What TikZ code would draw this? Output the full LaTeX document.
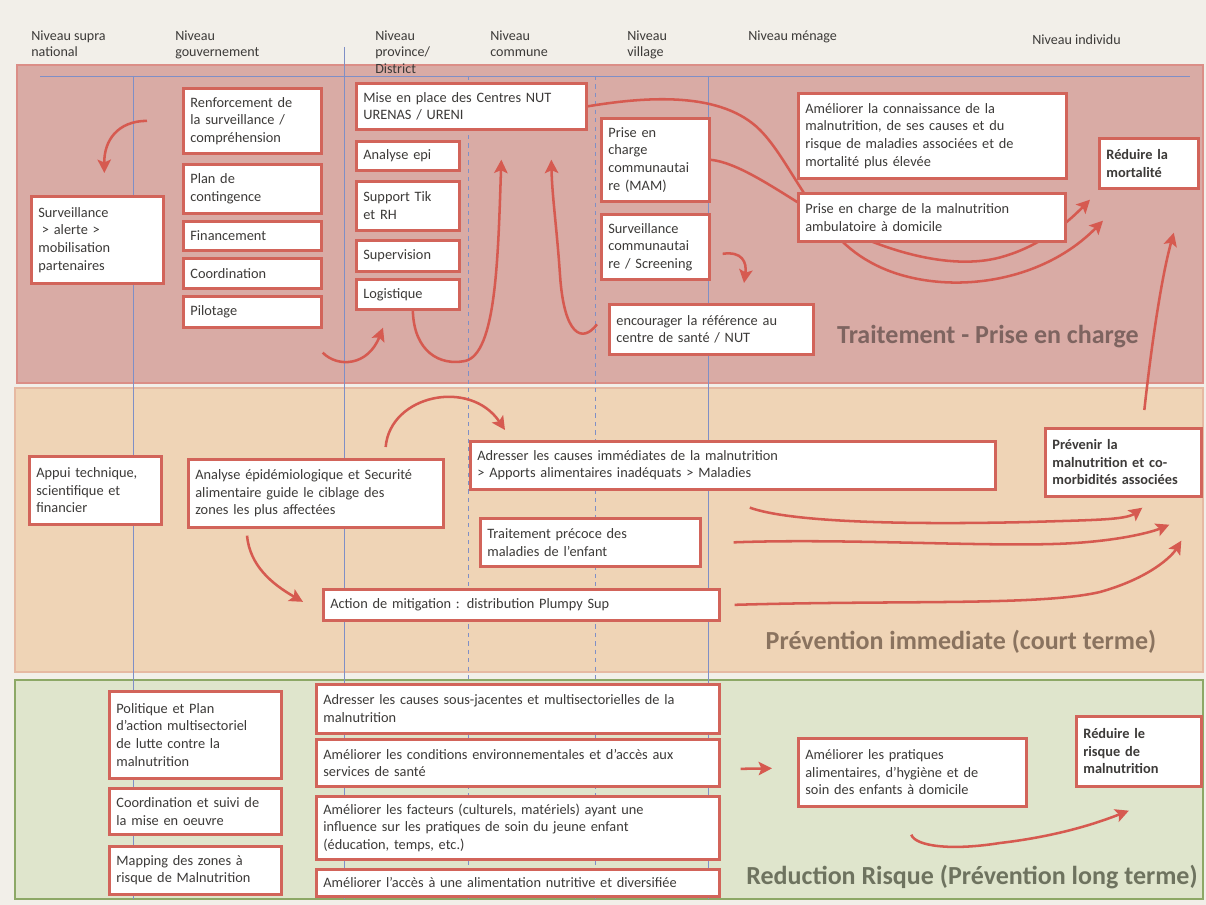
\documentclass[tikz,border=0pt]{standalone}
\usepackage{fontspec}
\setmainfont{Carlito}
\usepackage{xcolor}
\usetikzlibrary{calc,arrows.meta,positioning}
\definecolor{pagebg}{HTML}{F2EFE9}
\definecolor{bandone}{HTML}{D9ABA5}
\definecolor{bandonec}{HTML}{DB8E87}
\definecolor{bandtwo}{HTML}{EFD4B6}
\definecolor{bandtwoc}{HTML}{E6B9A2}
\definecolor{bandthree}{HTML}{DFE5CC}
\definecolor{bandthreec}{HTML}{8DA866}
\definecolor{boxc}{HTML}{D2645A}
\definecolor{arrc}{HTML}{D65A50}
\definecolor{gridc}{HTML}{7F8FC6}
\definecolor{txtc}{HTML}{3C3A38}
\definecolor{lblone}{HTML}{7E6460}
\definecolor{lbltwo}{HTML}{8A735F}
\definecolor{lblthree}{HTML}{6E735F}
\newlength{\pxu}\setlength{\pxu}{0.025cm}
\newcommand{\boxfont}{\fontsize{10.2}{12.5}\selectfont}
\newcommand{\headfont}{\fontsize{10}{11.4}\selectfont}
\newcommand{\bandfont}{\fontsize{18.5}{22}\selectfont\bfseries}
\pgfdeclarelayer{bands}
\pgfdeclarelayer{links}
\pgfsetlayers{bands,links,main}
\tikzset{
  box/.style n args={2}{draw=boxc,line width=1.9pt,fill=white,anchor=north west,align=left,inner xsep=5pt,inner ysep=1pt,text width=#1*\pxu-10pt,minimum height=#2*\pxu,font=\boxfont,text=txtc},
  boxb/.style={font=\boxfont\bfseries},
  ar/.style={-{Stealth[length=9.5pt,width=9.5pt,inset=2pt]},line width=1.8pt,arrc},
  hd/.style={anchor=north west,align=left,inner sep=0pt,font=\headfont,text=txtc},
  gline/.style={gridc,line width=0.6pt},
  lbl/.style={font=\bandfont}
}

\begin{document}
\begin{tikzpicture}[x=0.025cm,y=-0.025cm]
\useasboundingbox (0,0) rectangle (1206,905);
\begin{pgfonlayer}{bands}
\fill[pagebg] (0,0) rectangle (1206,905);
\filldraw[fill=bandone,draw=bandonec,line width=2pt] (17,65) rectangle (1203,383);
\filldraw[fill=bandtwo,draw=bandtwoc,line width=1pt] (15,388) rectangle (1203,672);
\filldraw[fill=bandthree,draw=bandthreec,line width=1.5pt] (15,680) rectangle (1203,899);
% niveaux
\draw[gline] (40,76) -- (1190,76);
\draw[gline] (133,76) -- (133,899);
\draw[gline] (344,47) -- (344,899);
\draw[gline] (708,76) -- (708,899);
\draw[gline,dashed] (468,76) -- (468,899);
\draw[gline,dashed] (595,76) -- (595,899);
\end{pgfonlayer}

% en-tetes
\node[hd] (nsupra) at (31,31) {Niveau supra\\national};
\node[hd] (ngouv) at (175,31) {Niveau\\gouvernement};
\node[hd] (nprov) at (375,31) {Niveau\\province/\\District};
\node[hd] (ncomm) at (490,31) {Niveau\\commune};
\node[hd] (nvill) at (627,31) {Niveau\\village};
\node[hd] (nmen) at (748,31) {Niveau ménage};
\node[hd] (nindiv) at (1032,34) {Niveau individu};

% traitement
\node[box={132}{87}] (surv) at (30,195) {Surveillance\\\hspace*{0.25em}> alerte >\\mobilisation\\partenaires};
\node[box={138}{65}] (renf) at (182,87) {Renforcement de\\la surveillance /\\compréhension};
\node[box={138}{49}] (plan) at (182,163) {Plan de\\contingence};
\node[box={138}{29}] (fin) at (182,220) {Financement};
\node[box={138}{30}] (coord) at (182,257) {Coordination};
\node[box={138}{31}] (pilot) at (182,295) {Pilotage};
\node[box={230}{46}] (mise) at (355,82) {Mise en place des Centres NUT\\URENAS / URENI};
\node[box={103}{29}] (epi) at (355,140) {Analyse epi};
\node[box={103}{49}] (tik) at (355,180) {Support Tik\\et RH};
\node[box={103}{31}] (superv) at (355,239) {Supervision};
\node[box={103}{30}] (logi) at (355,278) {Logistique};
\node[box={108}{83}] (pcc) at (600,117) {Prise en\\charge\\communautai\\re (MAM)};
\node[box={108}{65}] (scomm) at (600,213) {Surveillance\\communautai\\re / Screening};
\node[box={204}{50}] (encour) at (608,303) {encourager la référence au\\centre de santé / NUT};
\node[box={268}{85}] (amel) at (797,92) {Améliorer la connaissance de la\\malnutrition, de ses causes et du\\risque de maladies associées et de\\mortalité plus élevée};
\node[box={267}{48}] (amb) at (797,192) {Prise en charge de la malnutrition\\ambulatoire à domicile};
\node[box={99}{50},boxb] (redm) at (1098,137) {Réduire la\\mortalité};
\node[lbl,text=lblone] (ltrait) at (988,337) {Traitement - Prise en charge};

% prevention immediate
\node[box={132}{68}] (appui) at (28,455) {Appui technique,\\scientifique et\\financier};
\node[box={255}{68}] (anal) at (187,458) {Analyse épidémiologique et Securité\\alimentaire guide le ciblage des\\zones les plus affectées};
\node[box={525}{48}] (adr) at (469,440) {Adresser les causes immédiates de la malnutrition\\> Apports alimentaires inadéquats > Maladies};
\node[box={220}{48}] (trait) at (479,517) {Traitement précoce des\\maladies de l'enfant};
\node[box={396}{31}] (mitig) at (322,588) {Action de mitigation : distribution Plumpy Sup};
\node[box={156}{68},boxb] (prev) at (1044,427) {Prévenir la\\malnutrition et co-\\morbidités associées};
\node[lbl,text=lbltwo] (lprev) at (961,642) {Prévention immediate (court terme)};

% reduction risque
\node[box={172}{87}] (polit) at (108,690) {Politique et Plan\\d'action multisectoriel\\de lutte contre la\\malnutrition};
\node[box={172}{46}] (csuivi) at (108,787) {Coordination et suivi de\\la mise en oeuvre};
\node[box={172}{48}] (mapping) at (108,845) {Mapping des zones à\\risque de Malnutrition};
\node[box={403}{49}] (adrsj) at (315,683) {Adresser les causes sous-jacentes et multisectorielles de la\\malnutrition};
\node[box={403}{47}] (condit) at (315,738) {Améliorer les conditions environnementales et d'accès aux\\services de santé};
\node[box={403}{63}] (facteurs) at (315,795) {Améliorer les facteurs (culturels, matériels) ayant une\\influence sur les pratiques de soin du jeune enfant\\(éducation, temps, etc.)};
\node[box={403}{27}] (acces) at (315,868) {Améliorer l'accès à une alimentation nutritive et diversifiée};
\node[box={228}{68}] (prat) at (797,737) {Améliorer les pratiques\\alimentaires, d'hygiène et de\\soin des enfants à domicile};
\node[box={125}{70},boxb] (redr) at (1075,715) {Réduire le\\risque de\\malnutrition};
\node[lbl,text=lblthree] (lredu) at (972,877) {Reduction Risque (Prévention long terme)};

\begin{pgfonlayer}{links}
\draw[ar] ($(renf.west)+(-35,0)$) .. controls (118,121) and (104,140) .. ($(surv.north)+(7,-22)$);
\draw[ar] ($(pilot.south east)+(0,24)$) .. controls (338,368) and (368,366) .. ($(logi.south west)+(28,17)$);
\draw[ar] ($(logi.south)+(5,0)$) .. controls (414,352) and (440,366) .. (465,361) .. controls (496,354) and (498,260) .. ($(mise.south)+(30,29)$);
\draw[ar] ($(encour.west)+(-11,-5)$) .. controls (582,344) and (564,335) .. (560,275) .. controls (557,230) and (552,195) .. ($(mise.south)+(80,29)$);
\coordinate (scommtip) at (744,283);
\draw[ar] ($(scomm.east)+(12,7)$) .. controls (742,251) and (747,262) .. (scommtip);
\draw[ar] (mise.east) .. controls (650,96) and (722,92) .. (760,130) .. controls (792,162) and (815,232) .. (870,262) .. controls (930,296) and (1035,290) .. ($(redm.south west)+(5,31)$);
\draw[ar] (pcc.east) .. controls (742,163) and (785,196) .. (830,222) .. controls (885,252) and (955,272) .. (1005,256) .. controls (1045,244) and (1072,218) .. ($(redm.south west)+(-8,10)$);
\draw[ar] ($(prev.north)+(21,-17)$) .. controls (1152,340) and (1162,275) .. ($(redm.south)+(25,43)$);
\draw[ar] ($(anal.north east)+(-59,-11)$) .. controls (390,395) and (470,378) .. ($(adr.north west)+(36,-10)$);
\draw[ar] ($(anal.south west)+(60,7)$) .. controls (250,566) and (272,584) .. ($(mitig.west)+(-19,-3)$);
\draw[ar] ($(adr.south)+(17,17)$) .. controls (790,522) and (900,525) .. (1030,522) .. controls (1092,520) and (1126,520) .. ($(prev.south)+(19,10)$);
\draw[ar] ($(trait.east)+(32,0)$) .. controls (850,538) and (1000,548) .. (1075,543) .. controls (1122,540) and (1152,532) .. ($(prev.south)+(46,27)$);
\draw[ar] ($(mitig.east)+(14,0)$) .. controls (900,600) and (1040,606) .. (1100,592) .. controls (1150,578) and (1172,556) .. ($(prev.south)+(58,43)$);
\draw[ar] ($(condit.east)+(20,6)$) -- ($(prat.west)+(-25,-4)$);
\draw[ar] ($(prat.south)+(-1,27)$) .. controls (915,846) and (950,851) .. (1000,843) .. controls (1060,836) and (1100,822) .. ($(redr.south)+(-10,23)$);
\end{pgfonlayer}
\end{tikzpicture}
\end{document}
